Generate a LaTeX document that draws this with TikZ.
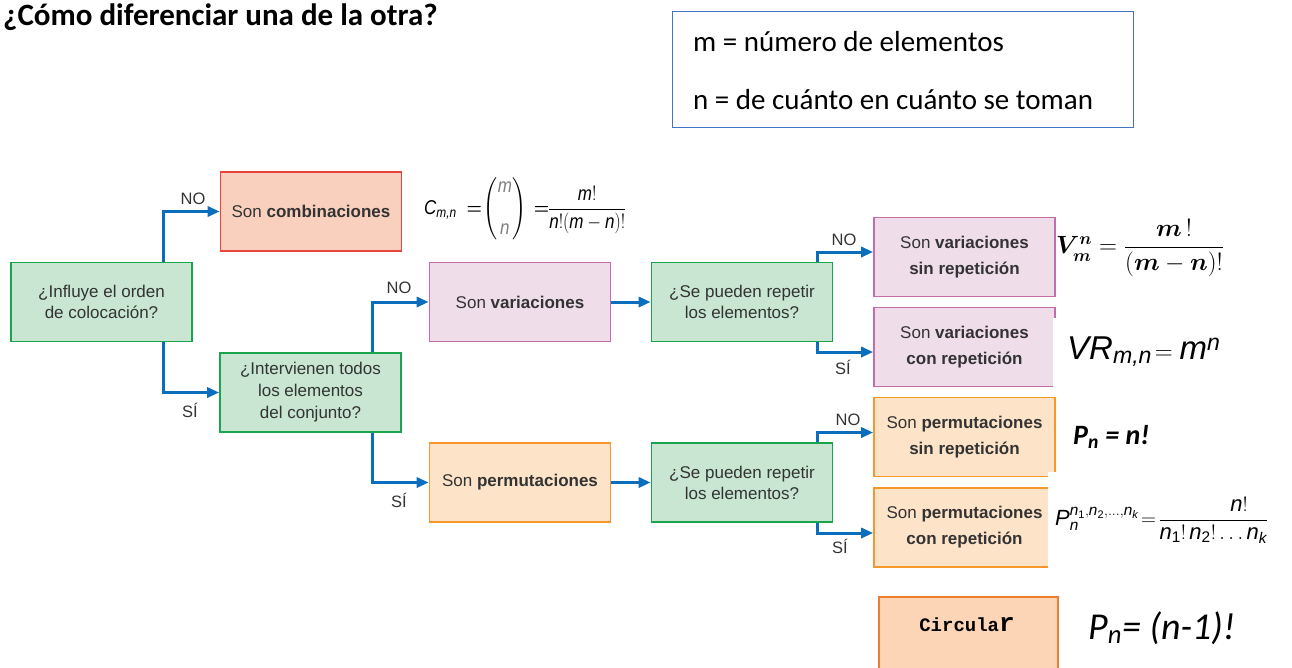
\documentclass[tikz,border=0pt]{standalone}
\usepackage{fontspec}
\usepackage{amsmath}
\usepackage{graphicx}
\setmainfont{Liberation Sans}
\newfontfamily\calibri{Carlito}
\newfontfamily\cour{Liberation Mono}
\usetikzlibrary{arrows.meta,calc}
\newcommand{\sit}[1]{\text{\itshape #1}}
\newcommand{\srm}[1]{\text{\upshape #1}}
\definecolor{arrowblue}{HTML}{0A6EBD}
\definecolor{gfill}{HTML}{C8E6D2}
\definecolor{gdraw}{HTML}{1BA44E}
\definecolor{rfill}{HTML}{F9D0BE}
\definecolor{rdraw}{HTML}{E9443B}
\definecolor{pfill}{HTML}{F0DDEA}
\definecolor{pdraw}{HTML}{C56DAB}
\definecolor{ofill}{HTML}{FDE4C9}
\definecolor{odraw}{HTML}{F7962B}
\definecolor{cfill}{HTML}{FBD5B5}
\definecolor{cdraw}{HTML}{ED7D31}
\definecolor{txt}{HTML}{333333}
\definecolor{legblue}{HTML}{4472C4}
\tikzset{
  box/.style={draw, line width=1.6pt, minimum width=181pt, minimum height=79pt,
    align=center, text=txt, inner sep=2pt, font=\fontsize{17}{21}\selectfont},
  qbox/.style={box, fill=gfill, draw=gdraw},
  cbox/.style={box, fill=rfill, draw=rdraw},
  vbox/.style={box, fill=pfill, draw=pdraw},
  pbox/.style={box, fill=ofill, draw=odraw},
  arr/.style={draw=arrowblue, line width=3pt, -{Triangle[length=12pt,width=10pt]}},
  lbl/.style={text=txt, font=\fontsize{16.5}{18}\selectfont, inner sep=0pt},
  frm/.style={anchor=west, inner sep=0pt},
}
\begin{document}
\begin{tikzpicture}[x=1pt,y=-1pt]
\useasboundingbox (0,0) rectangle (1292,667);
\begin{scope}
\clip (0,0) rectangle (1292,667);
% title
\node[anchor=base west, inner sep=0pt, font=\calibri\bfseries\fontsize{31}{34}\selectfont] (title) at (3,25) {¿Cómo diferenciar una de la otra?};
% legend
\node[draw=legblue, line width=1.2pt, minimum width=461pt, minimum height=116pt, anchor=north west, inner sep=0pt] (leg) at (672,11) {};
\node[anchor=west, inner sep=0pt, font=\calibri\fontsize{29}{32}\selectfont] (leg1) at (693,42) {m = número de elementos};
\node[anchor=west, inner sep=0pt, font=\calibri\fontsize{29}{32}\selectfont] (leg2) at (693,100) {n = de cuánto en cuánto se toman};

% boxes
\node[qbox] (inf) at (101.5,302) {¿Influye el orden\\de colocación?};
\node[cbox] (comb) at (311,211.5) {Son \textbf{combinaciones}};
\node[qbox, font=\fontsize{17}{22}\selectfont] (int) at (310.5,392.5) {¿Intervienen todos\\los elementos\\del conjunto?};
\node[vbox] (var) at (520,302) {Son \textbf{variaciones}};
\node[pbox] (perm) at (520,482.5) {Son \textbf{permutaciones}};
\node[qbox] (rep1) at (742,302) {¿Se pueden repetir\\los elementos?};
\node[qbox] (rep2) at (742,482.5) {¿Se pueden repetir\\los elementos?};
\node[vbox, font=\fontsize{17}{26}\selectfont] (vsr) at (964.5,257) {Son \textbf{variaciones}\\\textbf{sin repetición}};
\node[vbox, font=\fontsize{17}{26}\selectfont] (vcr) at (964.5,347) {Son \textbf{variaciones}\\\textbf{con repetición}};
\node[pbox, font=\fontsize{17}{26}\selectfont] (psr) at (964.5,437) {Son \textbf{permutaciones}\\\textbf{sin repetición}};
\node[pbox, font=\fontsize{17}{26}\selectfont] (pcr) at (964.5,527.5) {Son \textbf{permutaciones}\\\textbf{con repetición}};
\node[box, fill=cfill, draw=cdraw, minimum width=179pt, minimum height=80pt, anchor=north west] (circ) at (878,596) {};
\node[inner sep=0pt, anchor=base, font=\cour\bfseries\fontsize{19}{22}\selectfont] (circt) at (967,631) {Circula{\fontsize{26}{26}\selectfont r}};

% white patches of the pasted formulas
\fill[white] (1053,318) rectangle (1222,387);
\fill[white] (1048,472) rectangle (1285,572);

% connectors
\draw[arr] ([xshift=61.5pt]inf.north) |- (comb.west);
\draw[arr] ([xshift=61.5pt]inf.south) |- (int.west);
\draw[arr] ([xshift=61.5pt]int.north) |- (var.west);
\draw[arr] ([xshift=61.5pt]int.south) |- (perm.west);
\draw[arr] (var.east) -- (rep1.west);
\draw[arr] (perm.east) -- (rep2.west);
\draw[arr] ([xshift=75pt]rep1.north) |- ([yshift=5pt]vsr.west);
\draw[arr] ([xshift=75pt]rep1.south) |- ([yshift=-5pt]vcr.west);
\draw[arr] ([xshift=75pt]rep2.north) |- ([yshift=4.5pt]psr.west);
\draw[arr] ([xshift=75pt]rep2.south) |- ([yshift=-5.5pt]pcr.west);

% labels
\node[lbl] (l1) at (193,199) {NO};
\node[lbl] (l2) at (190,410) {SÍ};
\node[lbl] (l3) at (399,288) {NO};
\node[lbl] (l4) at (399,500) {SÍ};
\node[lbl] (l5) at (844,240) {NO};
\node[lbl] (l6) at (843,367) {SÍ};
\node[lbl] (l7) at (848,420) {NO};
\node[lbl] (l8) at (840,546) {SÍ};

% formulas
\node[frm, font=\fontsize{20}{24}\selectfont] (fC) at (424,209)
  {\scalebox{0.85}[1]{$\sit{C}_{\sit{m,n}}\;\boldsymbol{=}\!\left(\begin{array}{@{}c@{}}\color{gray}\sit{m}\\[18pt]\color{gray}\sit{n}\end{array}\right)\,\boldsymbol{=}\!\!\dfrac{\sit{m}!}{\sit{n}!(\sit{m}-\sit{n})!}$}};
\node[frm, font=\fontsize{24}{28}\selectfont] (fV) at (1056,248)
  {$\boldsymbol{V_m^n} = \dfrac{\boldsymbol{m}\,!}{(\boldsymbol{m}-\boldsymbol{n})!}$};
\node[frm, font=\fontsize{33}{36}\selectfont] (fVR) at (1067,352)
  {$\sit{VR}_{\sit{m,n}}\!=\sit{m}^{\sit{n}}$};
\node[frm, font=\calibri\bfseries\itshape\fontsize{28}{30}\selectfont] (fP) at (1073,437)
  {P\textsubscript{n} = n!};
\node[frm, font=\fontsize{22}{26}\selectfont] (fPR) at (1055,520)
  {$\sit{P}_{\sit{n}}^{\sit{n}_{\srm{1}},\sit{n}_{\srm{2}},\ldots,\sit{n}_{\sit{k}}}\!=\!\dfrac{\hphantom{\sit{n}_{\srm{1}}!\,\sit{n}_{\srm{2}}}\sit{n}!}{\sit{n}_{\srm{1}}!\,\sit{n}_{\srm{2}}!\ldots \sit{n}_{\sit{k}}}$};
\node[frm, font=\calibri\itshape\fontsize{38}{42}\selectfont] (fPC) at (1088,628)
  {P\textsubscript{n}= (n-1)!};
\end{scope}
\end{tikzpicture}
\end{document}
